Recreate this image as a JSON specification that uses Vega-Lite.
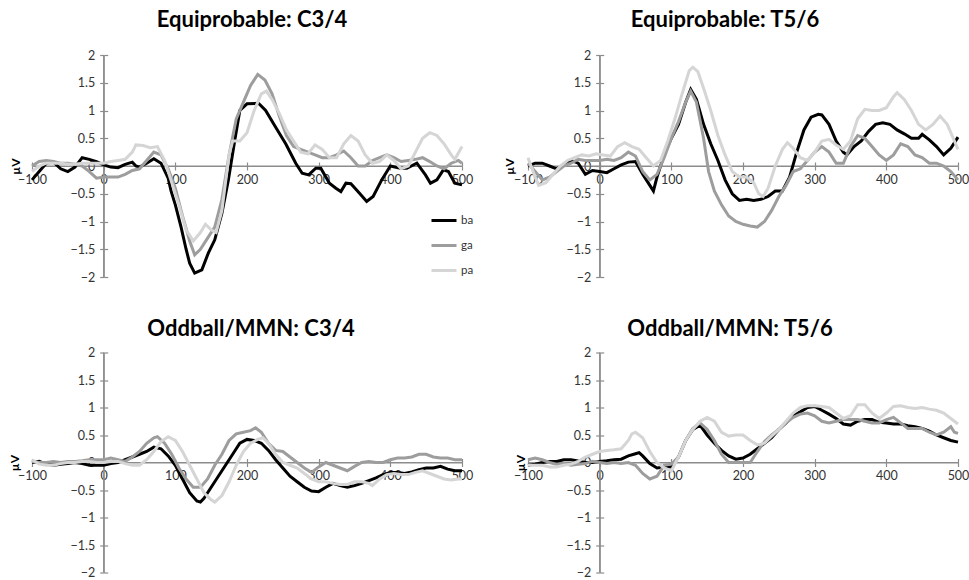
{
"$schema": "https://vega.github.io/schema/vega-lite/v6.json",
"autosize": {"type": "pad"},
"padding": {"left": 8, "top": 9, "right": 0, "bottom": 0},
"background": "white",
"bounds": "flush",
"columns": 2,
"spacing": {"row": 75.5, "column": 66},
"config": {"view": {"stroke": null}, "font": "Lato", "axis": {"grid": false},
 "title": {"font": "Lato", "fontSize": 22, "fontWeight": "bold", "color": "#000", "anchor": "middle"},
 "axisX": {"domainColor": "#8c8c8c", "domainWidth": 1.2, "tickColor": "#8c8c8c", "tickWidth": 1.2, "tickSize": 4, "labelFont": "Lato", "labelFontSize": 12.5, "labelColor": "#333", "labelFlush": false, "labelOverlap": false},
 "axisY": {"domainColor": "#8c8c8c", "domainWidth": 1.2, "tickColor": "#8c8c8c", "tickWidth": 1.2, "tickSize": 4, "labelFont": "Lato", "labelFontSize": 12.5, "labelColor": "#333", "labelFlush": false, "labelOverlap": false},
 "legend": {"title": null, "orient": "none", "legendX": 398, "legendY": 151.5, "padding": 0, "symbolType": "stroke", "symbolSize": 625, "symbolStrokeWidth": 3, "rowPadding": 5, "labelFont": "Lato", "labelFontSize": 11.5, "labelColor": "#333", "labelOffset": 3}
},
"concat": [
{"width": 430, "height": 222,
 "title": {"text": "Equiprobable: C3/4", "offset": 17, "dx": 5},
 "layer": [
  {"data": {"values": [{}]}, "mark": {"type": "rule", "color": "#8c8c8c", "strokeWidth": 1.2},
   "encoding": {"x": {"datum": 0, "type": "quantitative", "scale": {"domain": [-100, 500], "nice": false}, "axis": {"orient": "top", "offset": -111, "values": [-100,0,100,200,300,400,500], "labels": false, "domain": false, "title": null}}}},
  {"data": {"values": [{}]}, "mark": {"type": "rule", "color": "#8c8c8c", "strokeWidth": 1.2},
   "encoding": {"y": {"datum": 0, "type": "quantitative", "scale": {"domain": [-2, 2], "nice": false}, "axis": {"orient": "right", "offset": -358.3, "values": [-2,-1.5,-1,-0.5,0,0.5,1,1.5,2], "labels": false, "domain": false, "title": null}}}},
  {"data": {"values": [
{"s":"ba","t":-100,"v":-0.25},{"s":"ba","t":-90,"v":-0.1},{"s":"ba","t":-80,"v":0.05},{"s":"ba","t":-70,"v":0.07},{"s":"ba","t":-60,"v":-0.05},{"s":"ba","t":-50,"v":-0.1},{"s":"ba","t":-40,"v":-0.02},{"s":"ba","t":-30,"v":0.15},{"s":"ba","t":-20,"v":0.12},{"s":"ba","t":-10,"v":0.08},{"s":"ba","t":0,"v":0.02},{"s":"ba","t":10,"v":-0.02},{"s":"ba","t":20,"v":-0.03},{"s":"ba","t":30,"v":0.03},{"s":"ba","t":40,"v":0.07},{"s":"ba","t":45,"v":0.0},{"s":"ba","t":50,"v":-0.02},{"s":"ba","t":60,"v":0.05},{"s":"ba","t":70,"v":0.13},{"s":"ba","t":80,"v":0.05},{"s":"ba","t":90,"v":-0.22},{"s":"ba","t":94,"v":-0.45},{"s":"ba","t":100,"v":-0.7},{"s":"ba","t":108,"v":-1.1},{"s":"ba","t":115,"v":-1.5},{"s":"ba","t":120,"v":-1.75},{"s":"ba","t":127,"v":-1.93},{"s":"ba","t":137,"v":-1.87},{"s":"ba","t":146,"v":-1.57},{"s":"ba","t":155,"v":-1.33},{"s":"ba","t":165,"v":-0.85},{"s":"ba","t":174,"v":-0.25},{"s":"ba","t":183,"v":0.47},{"s":"ba","t":190,"v":1.0},{"s":"ba","t":200,"v":1.12},{"s":"ba","t":216,"v":1.13},{"s":"ba","t":226,"v":1.0},{"s":"ba","t":240,"v":0.7},{"s":"ba","t":254,"v":0.4},{"s":"ba","t":268,"v":0.05},{"s":"ba","t":277,"v":-0.13},{"s":"ba","t":286,"v":-0.16},{"s":"ba","t":296,"v":-0.04},{"s":"ba","t":303,"v":-0.04},{"s":"ba","t":315,"v":-0.31},{"s":"ba","t":324,"v":-0.4},{"s":"ba","t":331,"v":-0.46},{"s":"ba","t":338,"v":-0.31},{"s":"ba","t":345,"v":-0.32},{"s":"ba","t":357,"v":-0.49},{"s":"ba","t":367,"v":-0.64},{"s":"ba","t":376,"v":-0.55},{"s":"ba","t":388,"v":-0.25},{"s":"ba","t":400,"v":0.0},{"s":"ba","t":414,"v":-0.04},{"s":"ba","t":423,"v":-0.04},{"s":"ba","t":437,"v":0.05},{"s":"ba","t":449,"v":-0.16},{"s":"ba","t":456,"v":-0.31},{"s":"ba","t":465,"v":-0.25},{"s":"ba","t":474,"v":-0.07},{"s":"ba","t":481,"v":-0.1},{"s":"ba","t":490,"v":-0.31},{"s":"ba","t":500,"v":-0.34},
{"s":"ga","t":-100,"v":0.0},{"s":"ga","t":-90,"v":0.08},{"s":"ga","t":-80,"v":0.1},{"s":"ga","t":-70,"v":0.08},{"s":"ga","t":-60,"v":0.05},{"s":"ga","t":-50,"v":0.05},{"s":"ga","t":-40,"v":0.03},{"s":"ga","t":-30,"v":0.0},{"s":"ga","t":-20,"v":-0.1},{"s":"ga","t":-10,"v":-0.22},{"s":"ga","t":0,"v":-0.2},{"s":"ga","t":10,"v":-0.2},{"s":"ga","t":20,"v":-0.2},{"s":"ga","t":30,"v":-0.15},{"s":"ga","t":40,"v":-0.08},{"s":"ga","t":50,"v":-0.05},{"s":"ga","t":60,"v":0.1},{"s":"ga","t":70,"v":0.25},{"s":"ga","t":80,"v":0.2},{"s":"ga","t":90,"v":-0.05},{"s":"ga","t":100,"v":-0.4},{"s":"ga","t":110,"v":-0.9},{"s":"ga","t":120,"v":-1.35},{"s":"ga","t":127,"v":-1.6},{"s":"ga","t":135,"v":-1.5},{"s":"ga","t":145,"v":-1.3},{"s":"ga","t":155,"v":-1.1},{"s":"ga","t":165,"v":-0.6},{"s":"ga","t":175,"v":0.2},{"s":"ga","t":185,"v":0.85},{"s":"ga","t":195,"v":1.15},{"s":"ga","t":205,"v":1.45},{"s":"ga","t":215,"v":1.65},{"s":"ga","t":225,"v":1.55},{"s":"ga","t":235,"v":1.3},{"s":"ga","t":245,"v":0.9},{"s":"ga","t":255,"v":0.55},{"s":"ga","t":265,"v":0.35},{"s":"ga","t":275,"v":0.3},{"s":"ga","t":285,"v":0.25},{"s":"ga","t":295,"v":0.2},{"s":"ga","t":305,"v":0.15},{"s":"ga","t":315,"v":0.15},{"s":"ga","t":325,"v":0.2},{"s":"ga","t":335,"v":0.27},{"s":"ga","t":345,"v":0.15},{"s":"ga","t":355,"v":0.0},{"s":"ga","t":365,"v":0.0},{"s":"ga","t":375,"v":0.1},{"s":"ga","t":385,"v":0.15},{"s":"ga","t":395,"v":0.2},{"s":"ga","t":405,"v":0.15},{"s":"ga","t":415,"v":0.08},{"s":"ga","t":425,"v":0.1},{"s":"ga","t":435,"v":0.12},{"s":"ga","t":445,"v":0.15},{"s":"ga","t":455,"v":0.08},{"s":"ga","t":465,"v":0.0},{"s":"ga","t":475,"v":-0.05},{"s":"ga","t":485,"v":0.05},{"s":"ga","t":495,"v":0.1},{"s":"ga","t":500,"v":0.05},
{"s":"pa","t":-100,"v":-0.1},{"s":"pa","t":-90,"v":0.0},{"s":"pa","t":-80,"v":0.05},{"s":"pa","t":-70,"v":0.05},{"s":"pa","t":-60,"v":0.05},{"s":"pa","t":-50,"v":0.03},{"s":"pa","t":-40,"v":0.03},{"s":"pa","t":-30,"v":0.05},{"s":"pa","t":-20,"v":0.05},{"s":"pa","t":-10,"v":0.05},{"s":"pa","t":0,"v":0.05},{"s":"pa","t":10,"v":0.08},{"s":"pa","t":20,"v":0.1},{"s":"pa","t":30,"v":0.12},{"s":"pa","t":40,"v":0.25},{"s":"pa","t":45,"v":0.38},{"s":"pa","t":55,"v":0.37},{"s":"pa","t":65,"v":0.33},{"s":"pa","t":75,"v":0.35},{"s":"pa","t":85,"v":0.1},{"s":"pa","t":95,"v":-0.3},{"s":"pa","t":105,"v":-0.7},{"s":"pa","t":115,"v":-1.15},{"s":"pa","t":125,"v":-1.35},{"s":"pa","t":135,"v":-1.2},{"s":"pa","t":142,"v":-1.05},{"s":"pa","t":150,"v":-1.15},{"s":"pa","t":157,"v":-1.2},{"s":"pa","t":165,"v":-0.8},{"s":"pa","t":170,"v":-0.3},{"s":"pa","t":175,"v":0.2},{"s":"pa","t":180,"v":0.45},{"s":"pa","t":190,"v":0.45},{"s":"pa","t":200,"v":0.6},{"s":"pa","t":210,"v":1.0},{"s":"pa","t":220,"v":1.3},{"s":"pa","t":227,"v":1.35},{"s":"pa","t":235,"v":1.2},{"s":"pa","t":245,"v":0.95},{"s":"pa","t":255,"v":0.65},{"s":"pa","t":265,"v":0.45},{"s":"pa","t":275,"v":0.25},{"s":"pa","t":285,"v":0.22},{"s":"pa","t":295,"v":0.38},{"s":"pa","t":305,"v":0.3},{"s":"pa","t":315,"v":0.15},{"s":"pa","t":325,"v":0.15},{"s":"pa","t":335,"v":0.4},{"s":"pa","t":345,"v":0.55},{"s":"pa","t":355,"v":0.45},{"s":"pa","t":365,"v":0.2},{"s":"pa","t":375,"v":0.05},{"s":"pa","t":385,"v":0.08},{"s":"pa","t":395,"v":0.2},{"s":"pa","t":405,"v":0.1},{"s":"pa","t":415,"v":-0.05},{"s":"pa","t":425,"v":0.0},{"s":"pa","t":435,"v":0.25},{"s":"pa","t":445,"v":0.5},{"s":"pa","t":455,"v":0.6},{"s":"pa","t":465,"v":0.55},{"s":"pa","t":475,"v":0.4},{"s":"pa","t":485,"v":0.2},{"s":"pa","t":490,"v":0.12},{"s":"pa","t":500,"v":0.35}
  ]},
   "mark": {"type": "line", "strokeWidth": 3},
   "encoding": {
    "x": {"field": "t", "type": "quantitative", "scale": {"domain": [-100, 500], "nice": false}, "axis": {"orient": "bottom", "offset": -111, "values": [-100,0,100,200,300,400,500], "labelPadding": 3, "title": null}},
    "y": {"field": "v", "type": "quantitative", "scale": {"domain": [-2, 2], "nice": false}, "axis": {"orient": "left", "offset": -71.7, "values": [-2,-1.5,-1,-0.5,0,0.5,1,1.5,2], "format": "~g", "labelPadding": 5, "title": "µV", "titleFont": "Lato", "titleFontSize": 12, "titleFontWeight": "bold", "titleColor": "#000", "titleAngle": -90, "titleX": -88.5, "titleY": 111, "titleAlign": "center", "titleBaseline": "middle"}},
    "color": {"field": "s", "type": "nominal", "scale": {"domain": ["ba","ga","pa"], "range": ["#000000","#9d9d9d","#d5d5d5"]}}
   }}
 ],
 "resolve": {"axis": {"x": "independent", "y": "independent"}}
},
{"width": 430, "height": 222,
 "title": {"text": "Equiprobable: T5/6", "offset": 17, "dx": -18},
 "layer": [
  {"data": {"values": [{}]}, "mark": {"type": "rule", "color": "#8c8c8c", "strokeWidth": 1.2},
   "encoding": {"x": {"datum": 0, "type": "quantitative", "scale": {"domain": [-100, 500], "nice": false}, "axis": {"orient": "top", "offset": -111, "values": [-100,0,100,200,300,400,500], "labels": false, "domain": false, "title": null}}}},
  {"data": {"values": [{}]}, "mark": {"type": "rule", "color": "#8c8c8c", "strokeWidth": 1.2},
   "encoding": {"y": {"datum": 0, "type": "quantitative", "scale": {"domain": [-2, 2], "nice": false}, "axis": {"orient": "right", "offset": -358.3, "values": [-2,-1.5,-1,-0.5,0,0.5,1,1.5,2], "labels": false, "domain": false, "title": null}}}},
  {"data": {"values": [
{"s":"ba","t":-100,"v":0.0},{"s":"ba","t":-90,"v":0.05},{"s":"ba","t":-80,"v":0.05},{"s":"ba","t":-70,"v":0.0},{"s":"ba","t":-60,"v":-0.05},{"s":"ba","t":-50,"v":0.02},{"s":"ba","t":-40,"v":0.1},{"s":"ba","t":-30,"v":0.05},{"s":"ba","t":-20,"v":-0.15},{"s":"ba","t":-10,"v":-0.08},{"s":"ba","t":0,"v":-0.1},{"s":"ba","t":10,"v":-0.12},{"s":"ba","t":20,"v":-0.05},{"s":"ba","t":30,"v":0.02},{"s":"ba","t":40,"v":0.07},{"s":"ba","t":50,"v":0.08},{"s":"ba","t":60,"v":-0.15},{"s":"ba","t":70,"v":-0.35},{"s":"ba","t":75,"v":-0.45},{"s":"ba","t":80,"v":-0.2},{"s":"ba","t":90,"v":0.2},{"s":"ba","t":100,"v":0.5},{"s":"ba","t":110,"v":0.75},{"s":"ba","t":120,"v":1.15},{"s":"ba","t":127,"v":1.38},{"s":"ba","t":135,"v":1.2},{"s":"ba","t":145,"v":0.75},{"s":"ba","t":155,"v":0.4},{"s":"ba","t":165,"v":0.1},{"s":"ba","t":175,"v":-0.25},{"s":"ba","t":185,"v":-0.5},{"s":"ba","t":195,"v":-0.62},{"s":"ba","t":205,"v":-0.6},{"s":"ba","t":215,"v":-0.62},{"s":"ba","t":225,"v":-0.6},{"s":"ba","t":235,"v":-0.55},{"s":"ba","t":245,"v":-0.45},{"s":"ba","t":255,"v":-0.45},{"s":"ba","t":265,"v":-0.2},{"s":"ba","t":275,"v":0.25},{"s":"ba","t":285,"v":0.65},{"s":"ba","t":295,"v":0.88},{"s":"ba","t":305,"v":0.93},{"s":"ba","t":310,"v":0.92},{"s":"ba","t":320,"v":0.75},{"s":"ba","t":330,"v":0.45},{"s":"ba","t":340,"v":0.25},{"s":"ba","t":345,"v":0.2},{"s":"ba","t":355,"v":0.35},{"s":"ba","t":365,"v":0.45},{"s":"ba","t":375,"v":0.62},{"s":"ba","t":385,"v":0.75},{"s":"ba","t":395,"v":0.78},{"s":"ba","t":405,"v":0.75},{"s":"ba","t":415,"v":0.65},{"s":"ba","t":425,"v":0.58},{"s":"ba","t":435,"v":0.5},{"s":"ba","t":445,"v":0.5},{"s":"ba","t":450,"v":0.57},{"s":"ba","t":460,"v":0.47},{"s":"ba","t":470,"v":0.35},{"s":"ba","t":480,"v":0.2},{"s":"ba","t":490,"v":0.32},{"s":"ba","t":500,"v":0.52},
{"s":"ga","t":-100,"v":0.05},{"s":"ga","t":-90,"v":-0.1},{"s":"ga","t":-80,"v":-0.25},{"s":"ga","t":-70,"v":-0.2},{"s":"ga","t":-60,"v":-0.1},{"s":"ga","t":-50,"v":0.0},{"s":"ga","t":-40,"v":0.05},{"s":"ga","t":-30,"v":0.12},{"s":"ga","t":-20,"v":0.1},{"s":"ga","t":-10,"v":0.1},{"s":"ga","t":0,"v":0.1},{"s":"ga","t":10,"v":0.12},{"s":"ga","t":20,"v":0.1},{"s":"ga","t":30,"v":0.15},{"s":"ga","t":40,"v":0.25},{"s":"ga","t":50,"v":0.18},{"s":"ga","t":60,"v":-0.1},{"s":"ga","t":70,"v":-0.25},{"s":"ga","t":80,"v":-0.15},{"s":"ga","t":90,"v":0.15},{"s":"ga","t":100,"v":0.5},{"s":"ga","t":110,"v":0.8},{"s":"ga","t":120,"v":1.15},{"s":"ga","t":127,"v":1.35},{"s":"ga","t":135,"v":1.15},{"s":"ga","t":145,"v":0.5},{"s":"ga","t":152,"v":-0.1},{"s":"ga","t":160,"v":-0.45},{"s":"ga","t":170,"v":-0.7},{"s":"ga","t":180,"v":-0.9},{"s":"ga","t":190,"v":-1.0},{"s":"ga","t":200,"v":-1.05},{"s":"ga","t":210,"v":-1.08},{"s":"ga","t":220,"v":-1.1},{"s":"ga","t":230,"v":-1.0},{"s":"ga","t":240,"v":-0.8},{"s":"ga","t":250,"v":-0.55},{"s":"ga","t":260,"v":-0.35},{"s":"ga","t":270,"v":-0.1},{"s":"ga","t":280,"v":-0.05},{"s":"ga","t":290,"v":0.1},{"s":"ga","t":300,"v":0.25},{"s":"ga","t":310,"v":0.35},{"s":"ga","t":320,"v":0.25},{"s":"ga","t":330,"v":0.05},{"s":"ga","t":340,"v":0.05},{"s":"ga","t":350,"v":0.35},{"s":"ga","t":360,"v":0.55},{"s":"ga","t":370,"v":0.5},{"s":"ga","t":380,"v":0.35},{"s":"ga","t":390,"v":0.2},{"s":"ga","t":400,"v":0.1},{"s":"ga","t":410,"v":0.2},{"s":"ga","t":420,"v":0.4},{"s":"ga","t":430,"v":0.35},{"s":"ga","t":440,"v":0.2},{"s":"ga","t":450,"v":0.15},{"s":"ga","t":460,"v":0.05},{"s":"ga","t":470,"v":0.05},{"s":"ga","t":480,"v":0.0},{"s":"ga","t":490,"v":-0.1},{"s":"ga","t":500,"v":-0.25},
{"s":"pa","t":-100,"v":0.15},{"s":"pa","t":-90,"v":-0.2},{"s":"pa","t":-85,"v":-0.35},{"s":"pa","t":-75,"v":-0.3},{"s":"pa","t":-65,"v":-0.15},{"s":"pa","t":-55,"v":0.0},{"s":"pa","t":-45,"v":0.1},{"s":"pa","t":-35,"v":0.15},{"s":"pa","t":-25,"v":0.2},{"s":"pa","t":-15,"v":0.18},{"s":"pa","t":-5,"v":0.22},{"s":"pa","t":5,"v":0.2},{"s":"pa","t":15,"v":0.18},{"s":"pa","t":25,"v":0.35},{"s":"pa","t":35,"v":0.42},{"s":"pa","t":45,"v":0.35},{"s":"pa","t":55,"v":0.3},{"s":"pa","t":65,"v":0.15},{"s":"pa","t":75,"v":0.0},{"s":"pa","t":85,"v":0.1},{"s":"pa","t":95,"v":0.45},{"s":"pa","t":105,"v":0.85},{"s":"pa","t":115,"v":1.3},{"s":"pa","t":125,"v":1.72},{"s":"pa","t":130,"v":1.78},{"s":"pa","t":137,"v":1.7},{"s":"pa","t":145,"v":1.4},{"s":"pa","t":155,"v":1.0},{"s":"pa","t":165,"v":0.55},{"s":"pa","t":175,"v":0.2},{"s":"pa","t":185,"v":-0.1},{"s":"pa","t":195,"v":-0.2},{"s":"pa","t":205,"v":-0.2},{"s":"pa","t":215,"v":-0.3},{"s":"pa","t":222,"v":-0.5},{"s":"pa","t":228,"v":-0.55},{"s":"pa","t":235,"v":-0.4},{"s":"pa","t":245,"v":0.0},{"s":"pa","t":255,"v":0.3},{"s":"pa","t":262,"v":0.42},{"s":"pa","t":270,"v":0.32},{"s":"pa","t":280,"v":0.15},{"s":"pa","t":290,"v":0.1},{"s":"pa","t":300,"v":0.25},{"s":"pa","t":310,"v":0.45},{"s":"pa","t":320,"v":0.48},{"s":"pa","t":330,"v":0.38},{"s":"pa","t":340,"v":0.3},{"s":"pa","t":350,"v":0.45},{"s":"pa","t":360,"v":0.85},{"s":"pa","t":370,"v":1.02},{"s":"pa","t":380,"v":1.0},{"s":"pa","t":390,"v":1.0},{"s":"pa","t":400,"v":1.05},{"s":"pa","t":410,"v":1.25},{"s":"pa","t":415,"v":1.32},{"s":"pa","t":425,"v":1.2},{"s":"pa","t":435,"v":1.0},{"s":"pa","t":445,"v":0.75},{"s":"pa","t":455,"v":0.65},{"s":"pa","t":465,"v":0.75},{"s":"pa","t":475,"v":0.9},{"s":"pa","t":485,"v":0.75},{"s":"pa","t":495,"v":0.45},{"s":"pa","t":500,"v":0.3}
  ]},
   "mark": {"type": "line", "strokeWidth": 3},
   "encoding": {
    "x": {"field": "t", "type": "quantitative", "scale": {"domain": [-100, 500], "nice": false}, "axis": {"orient": "bottom", "offset": -111, "values": [-100,0,100,200,300,400,500], "labelPadding": 3, "title": null}},
    "y": {"field": "v", "type": "quantitative", "scale": {"domain": [-2, 2], "nice": false}, "axis": {"orient": "left", "offset": -71.7, "values": [-2,-1.5,-1,-0.5,0,0.5,1,1.5,2], "format": "~g", "labelPadding": 5, "title": "µV", "titleFont": "Lato", "titleFontSize": 12, "titleFontWeight": "bold", "titleColor": "#000", "titleAngle": -90, "titleX": -90, "titleY": 111, "titleAlign": "center", "titleBaseline": "middle"}},
    "color": {"field": "s", "type": "nominal", "scale": {"domain": ["ba","ga","pa"], "range": ["#000000","#9d9d9d","#d5d5d5"]}}
   }}
 ],
 "resolve": {"axis": {"x": "independent", "y": "independent"}}
},
{"width": 430, "height": 220,
 "title": {"text": "Oddball/MMN: C3/4", "offset": 6, "dx": 4},
 "layer": [
  {"data": {"values": [{}]}, "mark": {"type": "rule", "color": "#8c8c8c", "strokeWidth": 1.2},
   "encoding": {"x": {"datum": 0, "type": "quantitative", "scale": {"domain": [-100, 500], "nice": false}, "axis": {"orient": "top", "offset": -110, "values": [-100,0,100,200,300,400,500], "labels": false, "domain": false, "title": null}}}},
  {"data": {"values": [{}]}, "mark": {"type": "rule", "color": "#8c8c8c", "strokeWidth": 1.2},
   "encoding": {"y": {"datum": 0, "type": "quantitative", "scale": {"domain": [-2, 2], "nice": false}, "axis": {"orient": "right", "offset": -358.3, "values": [-2,-1.5,-1,-0.5,0,0.5,1,1.5,2], "labels": false, "domain": false, "title": null}}}},
  {"data": {"values": [
{"s":"ba","t":-100,"v":0.0},{"s":"ba","t":-90,"v":0.02},{"s":"ba","t":-80,"v":-0.03},{"s":"ba","t":-70,"v":-0.05},{"s":"ba","t":-60,"v":-0.03},{"s":"ba","t":-50,"v":-0.02},{"s":"ba","t":-40,"v":0.0},{"s":"ba","t":-30,"v":-0.02},{"s":"ba","t":-20,"v":-0.05},{"s":"ba","t":-10,"v":-0.05},{"s":"ba","t":0,"v":-0.05},{"s":"ba","t":10,"v":-0.02},{"s":"ba","t":20,"v":0.0},{"s":"ba","t":30,"v":0.05},{"s":"ba","t":40,"v":0.1},{"s":"ba","t":50,"v":0.15},{"s":"ba","t":60,"v":0.2},{"s":"ba","t":70,"v":0.28},{"s":"ba","t":80,"v":0.25},{"s":"ba","t":90,"v":0.12},{"s":"ba","t":100,"v":-0.05},{"s":"ba","t":110,"v":-0.3},{"s":"ba","t":120,"v":-0.55},{"s":"ba","t":130,"v":-0.7},{"s":"ba","t":135,"v":-0.72},{"s":"ba","t":140,"v":-0.65},{"s":"ba","t":150,"v":-0.45},{"s":"ba","t":160,"v":-0.25},{"s":"ba","t":170,"v":-0.05},{"s":"ba","t":180,"v":0.15},{"s":"ba","t":190,"v":0.35},{"s":"ba","t":200,"v":0.42},{"s":"ba","t":210,"v":0.4},{"s":"ba","t":220,"v":0.35},{"s":"ba","t":230,"v":0.22},{"s":"ba","t":240,"v":0.05},{"s":"ba","t":250,"v":-0.1},{"s":"ba","t":260,"v":-0.25},{"s":"ba","t":270,"v":-0.35},{"s":"ba","t":280,"v":-0.45},{"s":"ba","t":290,"v":-0.52},{"s":"ba","t":300,"v":-0.53},{"s":"ba","t":310,"v":-0.45},{"s":"ba","t":320,"v":-0.38},{"s":"ba","t":330,"v":-0.42},{"s":"ba","t":340,"v":-0.45},{"s":"ba","t":350,"v":-0.42},{"s":"ba","t":360,"v":-0.38},{"s":"ba","t":370,"v":-0.33},{"s":"ba","t":380,"v":-0.28},{"s":"ba","t":390,"v":-0.22},{"s":"ba","t":400,"v":-0.18},{"s":"ba","t":410,"v":-0.18},{"s":"ba","t":420,"v":-0.2},{"s":"ba","t":430,"v":-0.17},{"s":"ba","t":440,"v":-0.13},{"s":"ba","t":450,"v":-0.1},{"s":"ba","t":460,"v":-0.1},{"s":"ba","t":470,"v":-0.07},{"s":"ba","t":480,"v":-0.12},{"s":"ba","t":490,"v":-0.15},{"s":"ba","t":500,"v":-0.15},
{"s":"ga","t":-100,"v":0.02},{"s":"ga","t":-90,"v":0.0},{"s":"ga","t":-80,"v":0.0},{"s":"ga","t":-70,"v":0.02},{"s":"ga","t":-60,"v":0.0},{"s":"ga","t":-50,"v":0.02},{"s":"ga","t":-40,"v":0.02},{"s":"ga","t":-30,"v":0.03},{"s":"ga","t":-20,"v":0.05},{"s":"ga","t":-10,"v":0.05},{"s":"ga","t":0,"v":0.05},{"s":"ga","t":10,"v":0.08},{"s":"ga","t":20,"v":0.05},{"s":"ga","t":30,"v":0.02},{"s":"ga","t":40,"v":0.1},{"s":"ga","t":50,"v":0.2},{"s":"ga","t":60,"v":0.35},{"s":"ga","t":70,"v":0.45},{"s":"ga","t":75,"v":0.47},{"s":"ga","t":85,"v":0.35},{"s":"ga","t":95,"v":0.15},{"s":"ga","t":105,"v":-0.1},{"s":"ga","t":115,"v":-0.3},{"s":"ga","t":125,"v":-0.45},{"s":"ga","t":135,"v":-0.45},{"s":"ga","t":145,"v":-0.3},{"s":"ga","t":155,"v":-0.05},{"s":"ga","t":165,"v":0.15},{"s":"ga","t":175,"v":0.4},{"s":"ga","t":185,"v":0.52},{"s":"ga","t":195,"v":0.55},{"s":"ga","t":205,"v":0.58},{"s":"ga","t":212,"v":0.63},{"s":"ga","t":220,"v":0.55},{"s":"ga","t":230,"v":0.35},{"s":"ga","t":240,"v":0.22},{"s":"ga","t":250,"v":0.2},{"s":"ga","t":260,"v":0.1},{"s":"ga","t":270,"v":0.0},{"s":"ga","t":280,"v":-0.1},{"s":"ga","t":290,"v":-0.18},{"s":"ga","t":300,"v":-0.08},{"s":"ga","t":310,"v":0.0},{"s":"ga","t":320,"v":-0.05},{"s":"ga","t":330,"v":-0.1},{"s":"ga","t":340,"v":-0.15},{"s":"ga","t":350,"v":-0.07},{"s":"ga","t":360,"v":0.0},{"s":"ga","t":370,"v":0.02},{"s":"ga","t":380,"v":0.0},{"s":"ga","t":390,"v":0.0},{"s":"ga","t":400,"v":0.05},{"s":"ga","t":410,"v":0.08},{"s":"ga","t":420,"v":0.08},{"s":"ga","t":430,"v":0.1},{"s":"ga","t":440,"v":0.15},{"s":"ga","t":450,"v":0.15},{"s":"ga","t":460,"v":0.1},{"s":"ga","t":470,"v":0.08},{"s":"ga","t":480,"v":0.08},{"s":"ga","t":490,"v":0.05},{"s":"ga","t":500,"v":0.05},
{"s":"pa","t":-100,"v":0.05},{"s":"pa","t":-90,"v":-0.03},{"s":"pa","t":-80,"v":-0.05},{"s":"pa","t":-70,"v":-0.05},{"s":"pa","t":-60,"v":-0.02},{"s":"pa","t":-50,"v":0.0},{"s":"pa","t":-40,"v":0.0},{"s":"pa","t":-30,"v":0.02},{"s":"pa","t":-20,"v":0.02},{"s":"pa","t":-10,"v":0.0},{"s":"pa","t":0,"v":0.0},{"s":"pa","t":10,"v":0.02},{"s":"pa","t":20,"v":0.02},{"s":"pa","t":30,"v":-0.02},{"s":"pa","t":40,"v":-0.05},{"s":"pa","t":50,"v":-0.05},{"s":"pa","t":60,"v":0.05},{"s":"pa","t":70,"v":0.2},{"s":"pa","t":80,"v":0.38},{"s":"pa","t":90,"v":0.47},{"s":"pa","t":100,"v":0.4},{"s":"pa","t":110,"v":0.2},{"s":"pa","t":120,"v":-0.05},{"s":"pa","t":130,"v":-0.3},{"s":"pa","t":140,"v":-0.55},{"s":"pa","t":150,"v":-0.68},{"s":"pa","t":155,"v":-0.72},{"s":"pa","t":165,"v":-0.6},{"s":"pa","t":175,"v":-0.35},{"s":"pa","t":185,"v":-0.05},{"s":"pa","t":195,"v":0.2},{"s":"pa","t":205,"v":0.35},{"s":"pa","t":215,"v":0.42},{"s":"pa","t":222,"v":0.45},{"s":"pa","t":230,"v":0.35},{"s":"pa","t":240,"v":0.15},{"s":"pa","t":250,"v":0.0},{"s":"pa","t":260,"v":-0.05},{"s":"pa","t":270,"v":-0.1},{"s":"pa","t":280,"v":-0.2},{"s":"pa","t":290,"v":-0.3},{"s":"pa","t":300,"v":-0.35},{"s":"pa","t":310,"v":-0.35},{"s":"pa","t":320,"v":-0.38},{"s":"pa","t":330,"v":-0.4},{"s":"pa","t":340,"v":-0.4},{"s":"pa","t":350,"v":-0.35},{"s":"pa","t":360,"v":-0.35},{"s":"pa","t":370,"v":-0.38},{"s":"pa","t":375,"v":-0.42},{"s":"pa","t":385,"v":-0.3},{"s":"pa","t":395,"v":-0.22},{"s":"pa","t":405,"v":-0.2},{"s":"pa","t":415,"v":-0.22},{"s":"pa","t":425,"v":-0.22},{"s":"pa","t":435,"v":-0.18},{"s":"pa","t":445,"v":-0.15},{"s":"pa","t":455,"v":-0.2},{"s":"pa","t":465,"v":-0.25},{"s":"pa","t":475,"v":-0.3},{"s":"pa","t":485,"v":-0.32},{"s":"pa","t":495,"v":-0.3},{"s":"pa","t":500,"v":-0.3}
  ]},
   "mark": {"type": "line", "strokeWidth": 3},
   "encoding": {
    "x": {"field": "t", "type": "quantitative", "scale": {"domain": [-100, 500], "nice": false}, "axis": {"orient": "bottom", "offset": -110, "values": [-100,0,100,200,300,400,500], "labelPadding": 3, "title": null}},
    "y": {"field": "v", "type": "quantitative", "scale": {"domain": [-2, 2], "nice": false}, "axis": {"orient": "left", "offset": -71.7, "values": [-2,-1.5,-1,-0.5,0,0.5,1,1.5,2], "format": "~g", "labelPadding": 5, "title": "µV", "titleFont": "Lato", "titleFontSize": 12, "titleFontWeight": "bold", "titleColor": "#000", "titleAngle": -90, "titleX": -89, "titleY": 110, "titleAlign": "center", "titleBaseline": "middle"}},
    "color": {"field": "s", "type": "nominal", "scale": {"domain": ["ba","ga","pa"], "range": ["#000000","#9d9d9d","#d5d5d5"]}}
   }}
 ],
 "resolve": {"axis": {"x": "independent", "y": "independent"}}
},
{"width": 430, "height": 220,
 "title": {"text": "Oddball/MMN: T5/6", "offset": 6, "dx": -13},
 "layer": [
  {"data": {"values": [{}]}, "mark": {"type": "rule", "color": "#8c8c8c", "strokeWidth": 1.2},
   "encoding": {"x": {"datum": 0, "type": "quantitative", "scale": {"domain": [-100, 500], "nice": false}, "axis": {"orient": "top", "offset": -110, "values": [-100,0,100,200,300,400,500], "labels": false, "domain": false, "title": null}}}},
  {"data": {"values": [{}]}, "mark": {"type": "rule", "color": "#8c8c8c", "strokeWidth": 1.2},
   "encoding": {"y": {"datum": 0, "type": "quantitative", "scale": {"domain": [-2, 2], "nice": false}, "axis": {"orient": "right", "offset": -358.3, "values": [-2,-1.5,-1,-0.5,0,0.5,1,1.5,2], "labels": false, "domain": false, "title": null}}}},
  {"data": {"values": [
{"s":"ba","t":-100,"v":-0.05},{"s":"ba","t":-90,"v":-0.03},{"s":"ba","t":-80,"v":0.0},{"s":"ba","t":-70,"v":0.02},{"s":"ba","t":-60,"v":0.02},{"s":"ba","t":-50,"v":0.05},{"s":"ba","t":-40,"v":0.05},{"s":"ba","t":-30,"v":0.03},{"s":"ba","t":-20,"v":0.0},{"s":"ba","t":-10,"v":0.0},{"s":"ba","t":0,"v":0.02},{"s":"ba","t":10,"v":0.03},{"s":"ba","t":20,"v":0.05},{"s":"ba","t":30,"v":0.06},{"s":"ba","t":40,"v":0.12},{"s":"ba","t":50,"v":0.16},{"s":"ba","t":55,"v":0.18},{"s":"ba","t":60,"v":0.12},{"s":"ba","t":70,"v":-0.02},{"s":"ba","t":80,"v":-0.1},{"s":"ba","t":90,"v":-0.08},{"s":"ba","t":100,"v":-0.08},{"s":"ba","t":110,"v":0.1},{"s":"ba","t":120,"v":0.4},{"s":"ba","t":130,"v":0.6},{"s":"ba","t":140,"v":0.68},{"s":"ba","t":150,"v":0.5},{"s":"ba","t":160,"v":0.35},{"s":"ba","t":170,"v":0.22},{"s":"ba","t":180,"v":0.12},{"s":"ba","t":190,"v":0.06},{"s":"ba","t":200,"v":0.08},{"s":"ba","t":210,"v":0.15},{"s":"ba","t":220,"v":0.25},{"s":"ba","t":230,"v":0.35},{"s":"ba","t":240,"v":0.45},{"s":"ba","t":250,"v":0.6},{"s":"ba","t":260,"v":0.72},{"s":"ba","t":270,"v":0.85},{"s":"ba","t":280,"v":0.92},{"s":"ba","t":290,"v":1.0},{"s":"ba","t":300,"v":1.02},{"s":"ba","t":310,"v":0.95},{"s":"ba","t":320,"v":0.88},{"s":"ba","t":330,"v":0.8},{"s":"ba","t":340,"v":0.7},{"s":"ba","t":350,"v":0.68},{"s":"ba","t":360,"v":0.75},{"s":"ba","t":370,"v":0.78},{"s":"ba","t":380,"v":0.78},{"s":"ba","t":390,"v":0.73},{"s":"ba","t":400,"v":0.72},{"s":"ba","t":410,"v":0.7},{"s":"ba","t":420,"v":0.7},{"s":"ba","t":430,"v":0.67},{"s":"ba","t":440,"v":0.65},{"s":"ba","t":450,"v":0.62},{"s":"ba","t":460,"v":0.57},{"s":"ba","t":470,"v":0.5},{"s":"ba","t":480,"v":0.45},{"s":"ba","t":490,"v":0.4},{"s":"ba","t":500,"v":0.37},
{"s":"ga","t":-100,"v":0.05},{"s":"ga","t":-90,"v":0.08},{"s":"ga","t":-80,"v":0.05},{"s":"ga","t":-70,"v":0.0},{"s":"ga","t":-60,"v":-0.03},{"s":"ga","t":-50,"v":-0.02},{"s":"ga","t":-40,"v":-0.05},{"s":"ga","t":-30,"v":-0.03},{"s":"ga","t":-20,"v":-0.02},{"s":"ga","t":-10,"v":0.02},{"s":"ga","t":0,"v":0.0},{"s":"ga","t":10,"v":-0.02},{"s":"ga","t":20,"v":0.0},{"s":"ga","t":30,"v":-0.02},{"s":"ga","t":40,"v":0.0},{"s":"ga","t":50,"v":-0.05},{"s":"ga","t":60,"v":-0.2},{"s":"ga","t":70,"v":-0.3},{"s":"ga","t":80,"v":-0.25},{"s":"ga","t":90,"v":-0.05},{"s":"ga","t":100,"v":-0.03},{"s":"ga","t":110,"v":0.1},{"s":"ga","t":120,"v":0.4},{"s":"ga","t":130,"v":0.62},{"s":"ga","t":140,"v":0.72},{"s":"ga","t":150,"v":0.6},{"s":"ga","t":160,"v":0.4},{"s":"ga","t":170,"v":0.15},{"s":"ga","t":180,"v":0.0},{"s":"ga","t":190,"v":0.0},{"s":"ga","t":200,"v":0.0},{"s":"ga","t":210,"v":0.0},{"s":"ga","t":220,"v":0.2},{"s":"ga","t":230,"v":0.38},{"s":"ga","t":240,"v":0.5},{"s":"ga","t":250,"v":0.6},{"s":"ga","t":260,"v":0.72},{"s":"ga","t":270,"v":0.82},{"s":"ga","t":280,"v":0.88},{"s":"ga","t":290,"v":0.9},{"s":"ga","t":300,"v":0.85},{"s":"ga","t":310,"v":0.75},{"s":"ga","t":320,"v":0.72},{"s":"ga","t":330,"v":0.75},{"s":"ga","t":340,"v":0.78},{"s":"ga","t":350,"v":0.78},{"s":"ga","t":360,"v":0.78},{"s":"ga","t":370,"v":0.75},{"s":"ga","t":380,"v":0.72},{"s":"ga","t":390,"v":0.72},{"s":"ga","t":400,"v":0.78},{"s":"ga","t":410,"v":0.82},{"s":"ga","t":420,"v":0.72},{"s":"ga","t":430,"v":0.62},{"s":"ga","t":440,"v":0.62},{"s":"ga","t":450,"v":0.62},{"s":"ga","t":460,"v":0.55},{"s":"ga","t":470,"v":0.5},{"s":"ga","t":480,"v":0.55},{"s":"ga","t":490,"v":0.65},{"s":"ga","t":495,"v":0.55},{"s":"ga","t":500,"v":0.53},
{"s":"pa","t":-100,"v":-0.05},{"s":"pa","t":-90,"v":-0.05},{"s":"pa","t":-80,"v":-0.05},{"s":"pa","t":-70,"v":-0.08},{"s":"pa","t":-60,"v":-0.08},{"s":"pa","t":-50,"v":-0.05},{"s":"pa","t":-40,"v":-0.03},{"s":"pa","t":-30,"v":0.02},{"s":"pa","t":-20,"v":0.1},{"s":"pa","t":-10,"v":0.15},{"s":"pa","t":0,"v":0.2},{"s":"pa","t":10,"v":0.22},{"s":"pa","t":20,"v":0.23},{"s":"pa","t":30,"v":0.25},{"s":"pa","t":40,"v":0.4},{"s":"pa","t":45,"v":0.52},{"s":"pa","t":50,"v":0.55},{"s":"pa","t":60,"v":0.45},{"s":"pa","t":70,"v":0.2},{"s":"pa","t":80,"v":0.0},{"s":"pa","t":90,"v":-0.1},{"s":"pa","t":100,"v":-0.15},{"s":"pa","t":110,"v":0.1},{"s":"pa","t":120,"v":0.4},{"s":"pa","t":130,"v":0.6},{"s":"pa","t":140,"v":0.75},{"s":"pa","t":150,"v":0.82},{"s":"pa","t":160,"v":0.75},{"s":"pa","t":170,"v":0.55},{"s":"pa","t":180,"v":0.48},{"s":"pa","t":190,"v":0.5},{"s":"pa","t":200,"v":0.5},{"s":"pa","t":210,"v":0.4},{"s":"pa","t":220,"v":0.32},{"s":"pa","t":230,"v":0.35},{"s":"pa","t":240,"v":0.48},{"s":"pa","t":250,"v":0.6},{"s":"pa","t":260,"v":0.75},{"s":"pa","t":270,"v":0.9},{"s":"pa","t":280,"v":1.0},{"s":"pa","t":290,"v":1.03},{"s":"pa","t":300,"v":1.03},{"s":"pa","t":310,"v":1.02},{"s":"pa","t":320,"v":1.0},{"s":"pa","t":330,"v":0.9},{"s":"pa","t":340,"v":0.8},{"s":"pa","t":350,"v":0.85},{"s":"pa","t":360,"v":1.05},{"s":"pa","t":370,"v":1.05},{"s":"pa","t":380,"v":0.9},{"s":"pa","t":390,"v":0.8},{"s":"pa","t":400,"v":0.9},{"s":"pa","t":410,"v":1.02},{"s":"pa","t":420,"v":1.03},{"s":"pa","t":430,"v":1.0},{"s":"pa","t":440,"v":0.98},{"s":"pa","t":450,"v":1.0},{"s":"pa","t":460,"v":0.97},{"s":"pa","t":470,"v":0.95},{"s":"pa","t":480,"v":0.9},{"s":"pa","t":490,"v":0.8},{"s":"pa","t":500,"v":0.7}
  ]},
   "mark": {"type": "line", "strokeWidth": 3},
   "encoding": {
    "x": {"field": "t", "type": "quantitative", "scale": {"domain": [-100, 500], "nice": false}, "axis": {"orient": "bottom", "offset": -110, "values": [-100,0,100,200,300,400,500], "labelPadding": 3, "title": null}},
    "y": {"field": "v", "type": "quantitative", "scale": {"domain": [-2, 2], "nice": false}, "axis": {"orient": "left", "offset": -71.7, "values": [-2,-1.5,-1,-0.5,0,0.5,1,1.5,2], "format": "~g", "labelPadding": 5, "title": "µV", "titleFont": "Lato", "titleFontSize": 12, "titleFontWeight": "bold", "titleColor": "#000", "titleAngle": -90, "titleX": -79, "titleY": 110, "titleAlign": "center", "titleBaseline": "middle"}},
    "color": {"field": "s", "type": "nominal", "scale": {"domain": ["ba","ga","pa"], "range": ["#000000","#9d9d9d","#d5d5d5"]}}
   }}
 ],
 "resolve": {"axis": {"x": "independent", "y": "independent"}}
}
]
}
